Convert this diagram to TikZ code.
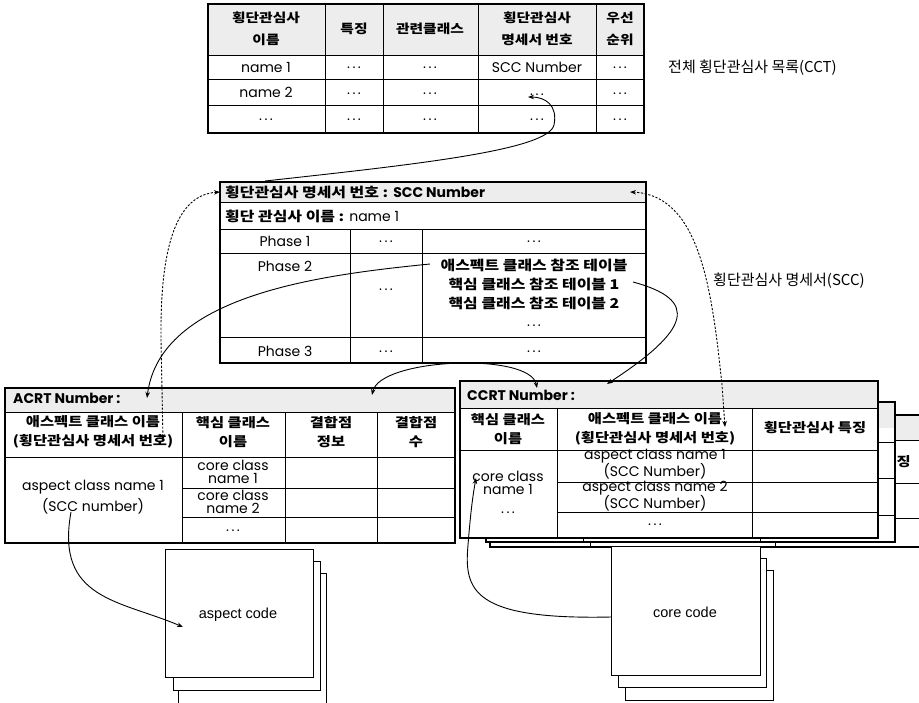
\documentclass[tikz,border=0pt]{standalone}
\usepackage{fontspec}
\setmainfont{Poppins}
\newfontfamily\kr{Noto Sans CJK KR}[FakeStretch=1.18]
\newfontfamily\krl{Noto Sans CJK KR}
\newfontfamily\arl{Liberation Sans}
\usetikzlibrary{arrows.meta}
\newcommand{\K}[1]{{\kr\bfseries #1}}
\newcommand{\dd}{.\kern2.5pt.\kern2.5pt.}
\tikzset{
  txt/.style={inner sep=0pt, align=center, font=\fontsize{14}{15}\selectfont},
  tight/.style={inner sep=0pt, align=center, font=\fontsize{14}{13}\selectfont},
  wide/.style={inner sep=0pt, align=center, font=\fontsize{14}{21}\selectfont},
  kt/.style={inner sep=0pt, align=center, font=\kr\bfseries\fontsize{13}{19}\selectfont},
  ktm/.style={inner sep=0pt, align=center, font=\kr\bfseries\fontsize{13.5}{19}\selectfont},
  kth/.style={inner sep=0pt, align=center, font=\kr\bfseries\fontsize{12.5}{22}\selectfont},
  lbl/.style={inner sep=0pt, anchor=west, font=\krl\fontsize{15}{17}\selectfont},
  outer/.style={line width=2pt},
  inner/.style={line width=0.8pt},
  shade/.style={fill=gray!14},
  tip/.tip={Stealth[length=6pt,width=4.5pt]},
  conn/.style={line width=0.9pt, -tip},
  bconn/.style={line width=0.9pt, tip-tip},
  dconn/.style={line width=0.9pt, dash pattern=on 2.2pt off 1.6pt, tip-tip},
  page/.style={draw, fill=white, line width=0.7pt},
  codetxt/.style={inner sep=0pt, font=\arl\fontsize{14.5}{16}\selectfont},
}
\begin{document}
\begin{tikzpicture}[x=1pt,y=-1pt]
\clip (0,0) rectangle (919,702);
\fill[white] (0,0) rectangle (919,702);

% ---------- CCT table ----------
\fill[shade] (208,4) rectangle (644,55);
\draw[inner] (208,55) -- (644,55) (208,79) -- (644,79) (208,105) -- (644,105);
\draw[inner] (325,4) -- (325,133) (383,4) -- (383,133) (478,4) -- (478,133) (596,4) -- (596,133);
\draw[outer] (208,4) rectangle (644,133);
\node[kth] (cctH1) at (266,29) {횡단관심사\\이름};
\node[kth] (cctH2) at (354,29) {특징};
\node[kth] (cctH3) at (430,29) {관련클래스};
\node[kth] (cctH4) at (537,29) {횡단관심사\\명세서 번호};
\node[kth] (cctH5) at (620,29) {우선\\순위};
\node[txt] (cct11) at (266,67) {name 1};
\node[txt] (cct12) at (354,68) {\dd};
\node[txt] (cct13) at (430,68) {\dd};
\node[txt] (cct14) at (537,67) {SCC Number};
\node[txt] (cct15) at (620,68) {\dd};
\node[txt] (cct21) at (266,92) {name 2};
\node[txt] (cct22) at (354,94) {\dd};
\node[txt] (cct23) at (430,94) {\dd};
\node[txt] (cct24) at (537,95) {\dd};
\node[txt] (cct25) at (620,94) {\dd};
\node[txt] (cct31) at (266,120) {\dd};
\node[txt] (cct32) at (354,120) {\dd};
\node[txt] (cct33) at (430,120) {\dd};
\node[txt] (cct34) at (537,120) {\dd};
\node[txt] (cct35) at (620,120) {\dd};
\node[lbl] (cctLbl) at (668,68) {전체 횡단관심사 목록(CCT)};

% ---------- SCC table ----------
\fill[shade] (220,182) rectangle (646,202);
\draw[inner] (220,202) -- (646,202) (220,229) -- (646,229) (220,253) -- (646,253)
  (220,337) -- (646,337);
\draw[inner] (350,229) -- (350,363) (422,229) -- (422,363);
\draw[outer] (220,182) rectangle (646,363);
\node[txt, anchor=west] (sccH) at (225,192) {{\kr\bfseries\fontsize{13.5}{15}\selectfont 횡단관심사 명세서 번호 :} \textbf{SCC Number}};
\node[txt, anchor=west] (sccN) at (225,216) {{\kr\bfseries\fontsize{13.5}{15}\selectfont 횡단 관심사 이름 :} name 1};
\node[txt] (p1) at (285,241) {Phase 1};
\node[txt] (p1b) at (386,242) {\dd};
\node[txt] (p1c) at (534,242) {\dd};
\node[txt] (p2) at (285,266) {Phase 2};
\node[txt] (p2b) at (386,290) {\dd};
\node[ktm] (art) at (534,265) {애스펙트 클래스 참조 테이블};
\node[ktm] (crt1) at (534,284) {핵심 클래스 참조 테이블 1};
\node[ktm] (crt2) at (534,303) {핵심 클래스 참조 테이블 2};
\node[txt] (p2d) at (534,326) {\dd};
\node[txt] (p3) at (285,351) {Phase 3};
\node[txt] (p3b) at (386,352) {\dd};
\node[txt] (p3c) at (534,352) {\dd};
\node[lbl] (sccLbl) at (713,281) {횡단관심사 명세서(SCC)};

% ---------- CCRT back tables ----------
\fill[white] (490,415) rectangle (940,547);
\fill[shade] (490,415) rectangle (940,440);
\draw[inner] (490,440) -- (940,440) (490,483) -- (940,483) (490,518) -- (940,518);
\draw[inner] (590,440) -- (590,547) (775,440) -- (775,547);
\draw[outer] (490,415) rectangle (940,547);
\node[kt, anchor=east] (b3h) at (911,462) {횡단관심사 특징};
\fill[white] (486,402) rectangle (895,542);
\fill[shade] (486,402) rectangle (895,428);
\draw[inner] (486,442) -- (895,442) (486,478) -- (895,478) (486,515) -- (895,515);
\draw[inner] (583,428) -- (583,542) (760,428) -- (760,542);
\draw[outer] (486,402) rectangle (895,542);

% ---------- CCRT front ----------
\fill[white] (460,381) rectangle (878,538);
\fill[shade] (460,381) rectangle (878,408);
\draw[inner] (460,408) -- (878,408) (460,450) -- (878,450) (557,482) -- (878,482) (557,512) -- (878,512);
\draw[inner] (557,408) -- (557,538) (752,408) -- (752,538);
\draw[outer] (460,381) rectangle (878,538);
\node[txt, anchor=west] (ccrtN) at (467,395) {\textbf{CCRT Number :}};
\node[kt] (ccH1) at (508,429) {핵심 클래스\\이름};
\node[kt] (ccH2) at (655,429) {애스펙트 클래스 이름\\(횡단관심사 명세서 번호)};
\node[kt] (ccH3) at (815,428) {횡단관심사 특징};
\node[tight] (ccC1) at (508,483) {core class\\name 1};
\node[txt] (ccC1d) at (508,513) {\dd};
\node[tight] (ccA1) at (655,464) {aspect class name 1\\(SCC Number)};
\node[tight] (ccA2) at (655,496) {aspect class name 2\\(SCC Number)};
\node[txt] (ccA3) at (655,525) {\dd};

% ---------- ACRT ----------
\fill[white] (5,388) rectangle (455,543);
\fill[shade] (5,388) rectangle (455,412);
\draw[inner] (5,412) -- (455,412) (5,457) -- (455,457) (182,488) -- (455,488) (182,517) -- (455,517);
\draw[inner] (182,412) -- (182,543) (285,412) -- (285,543) (377,412) -- (377,543);
\draw[outer] (5,388) rectangle (455,543);
\node[txt, anchor=west] (acrtN) at (13,398) {\textbf{ACRT Number :}};
\node[kt] (acH1) at (93,432) {애스펙트 클래스 이름\\(횡단관심사 명세서 번호)};
\node[kt] (acH2) at (233,432) {핵심 클래스\\이름};
\node[kt] (acH3) at (331,432) {결합점\\정보};
\node[kt] (acH4) at (416,432) {결합점\\수};
\node[wide] (acA1) at (93,497) {aspect class name 1\\(SCC number)};
\node[tight] (acC1) at (233,472) {core class\\name 1};
\node[tight] (acC2) at (233,502) {core class\\name 2};
\node[txt] (acC3) at (233,531) {\dd};

% ---------- code stacks ----------
\draw[page] (178,573) rectangle (326,720);
\draw[page] (173,561) rectangle (320,690);
\draw[page] (165,549) rectangle (313,677);
\node[codetxt] (acode) at (238,615) {aspect code};
\draw[page] (625,570) rectangle (773,700);
\draw[page] (618,558) rectangle (766,687);
\draw[page] (611,546) rectangle (760,675);
\node[codetxt] (ccode) at (685,612) {core code};

% ---------- connector end points ----------
\coordinate (sccTop) at (265,181);
\coordinate (cctRef) at (528,97);
\coordinate (artL) at (430,264);
\coordinate (acrtTop) at (147,398);
\coordinate (crtR) at (633,282);
\coordinate (ccrtTop) at (607,384);
\coordinate (acrtR) at (372,395);
\coordinate (ccrtL) at (537,388);
\coordinate (acSCC) at (71,512);
\coordinate (acodeIn) at (183,627);
\coordinate (ccodeL) at (611,617);
\coordinate (ccCore) at (476,478);
\coordinate (acName) at (163,440);
\coordinate (sccHL) at (220,192);
\coordinate (ccName) at (725,427);
\coordinate (sccHR) at (630,192);

% ---------- connectors ----------
\draw[conn] (sccTop) .. controls (420,164) and (548,150) .. (554,125)
  .. controls (558,105) and (545,97) .. (cctRef);
\draw[conn] (artL) .. controls (320,275) and (160,295) .. (acrtTop);
\draw[conn] (crtR) .. controls (700,300) and (690,330) .. (ccrtTop);
\draw[bconn] (acrtR) .. controls (380,358) and (530,352) .. (ccrtL);
\draw[conn] (acSCC) .. controls (55,600) and (120,600) .. (acodeIn);
\draw[conn] (ccodeL) .. controls (472,620) and (464,590) .. (468,545)
  .. controls (470,520) and (472,500) .. (ccCore);
\draw[dconn] (acName) -- (161,340) .. controls (160,250) and (175,195) .. (sccHL);
\draw[dconn] (ccName) -- (722,385) .. controls (712,290) and (700,195) .. (sccHR);
\end{tikzpicture}
\end{document}
